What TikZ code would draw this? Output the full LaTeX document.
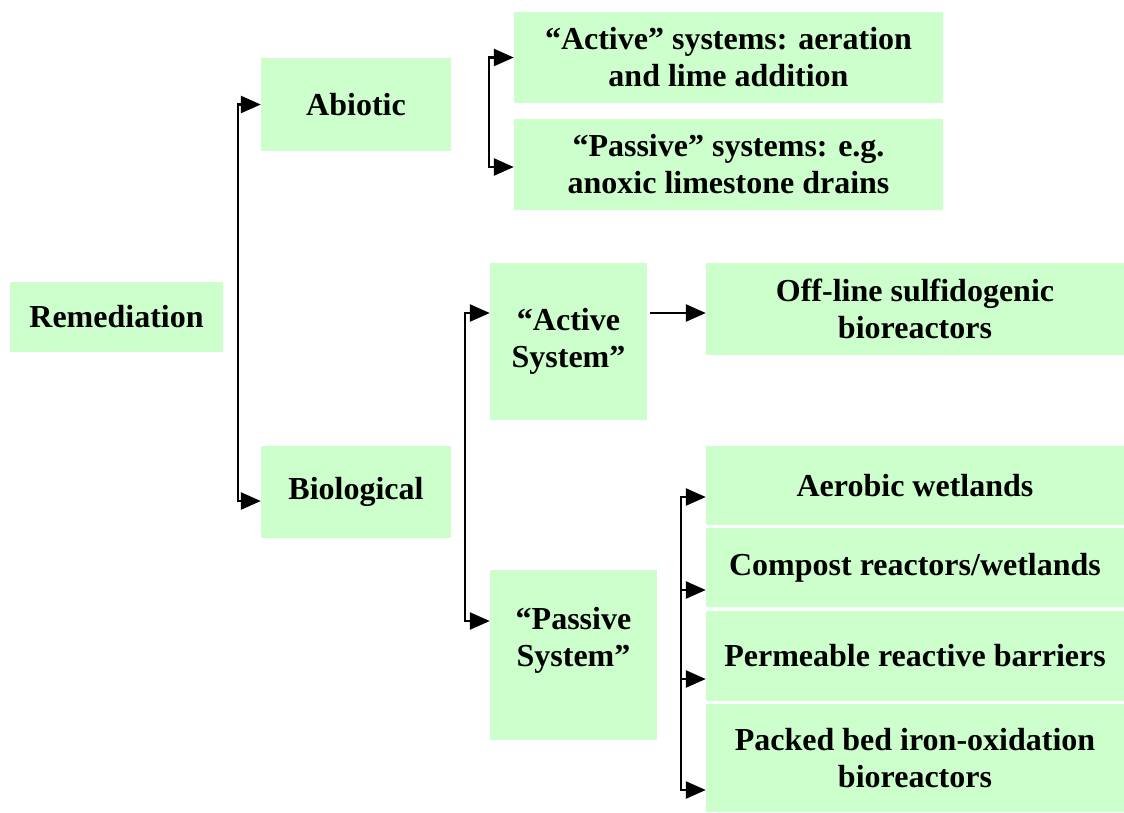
\documentclass[tikz,border=0pt]{standalone}
\usepackage{fontspec}
\setmainfont{Liberation Serif}
\usetikzlibrary{arrows.meta}
\definecolor{boxgreen}{HTML}{CCFFCC}
\begin{document}
\begin{tikzpicture}[x=1pt,y=-1pt,
  box/.style={fill=boxgreen, draw=none, inner sep=0pt, align=center,
    font=\fontsize{32}{37}\selectfont\bfseries},
  tip/.tip={Triangle[length=20pt,width=17pt]},
  link/.style={line width=2.5pt, -tip},
  link2/.style={line width=2.5pt, tip-tip},
]
\useasboundingbox (0,0) rectangle (1124,812);
\node[box, minimum width=213pt, minimum height=70pt] (rem) at (116.5,317) {Remediation};
\node[box, minimum width=190pt, minimum height=93pt] (abio) at (356,104.5) {Abiotic};
\node[box, minimum width=190pt, minimum height=92pt] (bio) at (356,492) {Biological};
\node[box, minimum width=429pt, minimum height=91pt] (act1) at (728.5,57.5) {“Active” systems: aeration\\and lime addition};
\node[box, minimum width=429pt, minimum height=91pt] (pas1) at (728.5,164.5) {“Passive” systems: e.g.\\anoxic limestone drains};
\node[box, minimum width=157pt, minimum height=157pt] (actS) at (568.5,341.5) {“Active\\System”};
\node[box, minimum width=167pt, minimum height=170pt] (pasS) at (573.5,655) {“Passive\\System”\\[0pt]\mbox{}};
\node[box, minimum width=418pt, minimum height=92pt] (off) at (915,309) {Off-line sulfidogenic\\bioreactors};
\node[box, minimum width=418pt, minimum height=79pt] (aer) at (915,485.5) {Aerobic wetlands};
\node[box, minimum width=418pt, minimum height=79pt] (comp) at (915,567.5) {Compost reactors/wetlands};
\node[box, minimum width=418pt, minimum height=90pt] (perm) at (915,656) {Permeable reactive barriers};
\node[box, minimum width=418pt, minimum height=108pt] (pack) at (915,758) {Packed bed iron-oxidation\\bioreactors};

\coordinate (j1) at (238,501);
\draw[link2] (abio.west) -| (j1) -- ([yshift=-9pt]bio.west);
\coordinate (j2) at (489,167);
\draw[link2] (act1.west) -| (j2) -- ([yshift=-2.5pt]pas1.west);
\coordinate (j3) at (465,621);
\draw[link2] ([yshift=28.5pt]actS.west) -| (j3) -- ([yshift=34pt]pasS.west);
\draw[link] ([xshift=3pt,yshift=28.5pt]actS.east) -- ([yshift=-4pt]off.west);
\coordinate (j4) at (681,790);
\draw[link2] ([yshift=-11.5pt]aer.west) -| (j4) -- ([yshift=-32pt]pack.west);
\path ([yshift=-22.5pt]comp.west) coordinate (c2);
\path ([yshift=-23pt]perm.west) coordinate (c3);
\draw[link] (c2 -| j4) -- (c2);
\draw[link] (c3 -| j4) -- (c3);
\end{tikzpicture}
\end{document}
